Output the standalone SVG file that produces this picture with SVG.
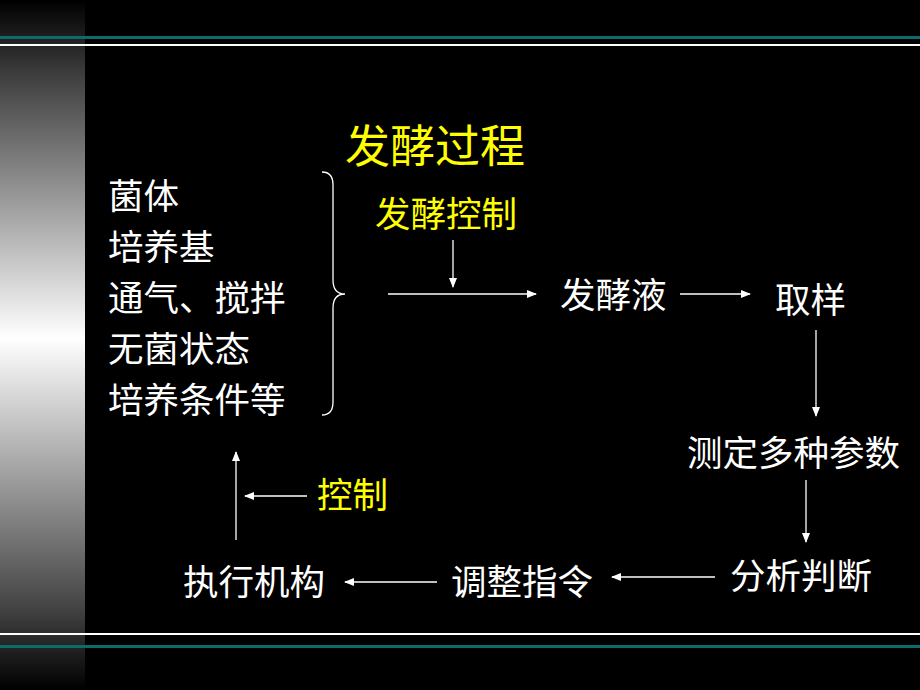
<svg xmlns="http://www.w3.org/2000/svg" width="920" height="690" viewBox="0 0 920 690">
<defs>
<linearGradient id="bar" x1="0" y1="0" x2="0" y2="1">
<stop offset="0" stop-color="#000"/><stop offset="0.12" stop-color="#444"/><stop offset="0.49" stop-color="#fff"/><stop offset="0.88" stop-color="#444"/><stop offset="1" stop-color="#000"/>
</linearGradient>
<marker id="ah" markerWidth="10" markerHeight="8" refX="9" refY="4" orient="auto" markerUnits="userSpaceOnUse"><path d="M0,0 L10,4 L0,8 Z" fill="#fff"/></marker>
<style>
text{font-family:"Liberation Serif","Noto Sans CJK SC",sans-serif;fill:#fff;font-size:35.5px}
.y{fill:#ffff00}
.t{font-size:45px}
.c line{stroke:#fff;stroke-width:1.3;marker-end:url(#ah)}
</style>
</defs>
<rect width="920" height="690" fill="#000"/>
<rect width="85" height="690" fill="url(#bar)"/>
<rect x="0" y="36" width="920" height="3" fill="#0d6b6b"/>
<rect x="0" y="44" width="920" height="2" fill="#fff"/>
<rect x="0" y="633" width="920" height="2" fill="#fff"/>
<rect x="0" y="645" width="920" height="3" fill="#0d6b6b"/>
<g id="title"><text class="y t" x="345" y="163">发酵过程</text></g>
<g id="inputs">
<text x="108" y="209">菌体</text>
<text x="108" y="260">培养基</text>
<text x="108" y="311">通气、搅拌</text>
<text x="108" y="362">无菌状态</text>
<text x="108" y="413">培养条件等</text>
<path d="M322,172 Q333,172 333,185 L333,280 Q333,294 345,294 Q333,294 333,308 L333,402 Q333,415 322,415" fill="none" stroke="#fff" stroke-width="1.3"/>
</g>
<g id="ctrl1"><text class="y" x="375" y="227">发酵控制</text></g>
<g id="broth"><text x="560" y="308">发酵液</text></g>
<g id="sample"><text x="775" y="313">取样</text></g>
<g id="measure"><text x="687" y="466">测定多种参数</text></g>
<g id="analyze"><text x="730" y="589">分析判断</text></g>
<g id="adjust"><text x="451" y="595">调整指令</text></g>
<g id="actuator"><text x="183" y="595">执行机构</text></g>
<g id="ctrl2"><text class="y" x="317" y="508">控制</text></g>
<g class="c" id="connectors">
<line x1="453" y1="240" x2="453" y2="287"/>
<line x1="388" y1="294" x2="536" y2="294"/>
<line x1="680" y1="294" x2="750" y2="294"/>
<line x1="816" y1="330" x2="816" y2="416"/>
<line x1="806" y1="480" x2="806" y2="542"/>
<line x1="715" y1="577" x2="612" y2="577"/>
<line x1="437" y1="582" x2="345" y2="582"/>
<line x1="236" y1="540" x2="236" y2="452"/>
<line x1="307" y1="496" x2="245" y2="496"/>
</g>
</svg>
